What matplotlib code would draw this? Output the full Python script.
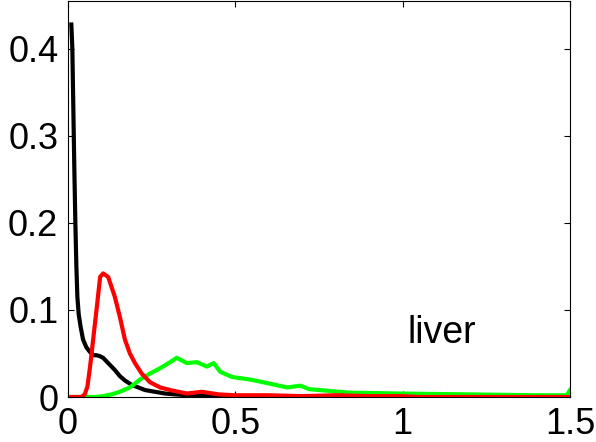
import matplotlib
matplotlib.use('Agg')
import matplotlib.pyplot as plt

# ── Data ──────────────────────────────────────────────────────────────────────
black_x = [0.010, 0.013, 0.016, 0.019, 0.022, 0.025, 0.028, 0.032, 0.038, 0.045,
           0.055, 0.065, 0.075, 0.085, 0.095, 0.105, 0.115, 0.125, 0.140, 0.155,
           0.170, 0.190, 0.210, 0.230, 0.260, 0.290, 0.320, 0.360, 0.400, 0.450,
           0.500, 0.550, 1.500]
black_y = [0.428, 0.400, 0.330, 0.260, 0.200, 0.150, 0.115, 0.095, 0.080, 0.066,
           0.057, 0.052, 0.048, 0.048, 0.047, 0.045, 0.041, 0.037, 0.031, 0.024,
           0.019, 0.014, 0.011, 0.008, 0.006, 0.004, 0.003, 0.002, 0.0015, 0.001,
           0.0005, 0.0, 0.0]

red_x = [0.010, 0.040, 0.050, 0.058, 0.066, 0.076, 0.086, 0.096, 0.105, 0.120,
         0.140, 0.155, 0.170, 0.185, 0.200, 0.220, 0.245, 0.275, 0.305, 0.355,
         0.400, 0.450, 0.500, 0.600, 0.700, 0.800, 0.900, 1.000, 1.050, 1.500]
red_y = [0.000, 0.000, 0.003, 0.012, 0.035, 0.069, 0.103, 0.138, 0.142, 0.138,
         0.115, 0.092, 0.066, 0.050, 0.039, 0.027, 0.017, 0.011, 0.008, 0.004,
         0.006, 0.003, 0.002, 0.002, 0.001, 0.002, 0.001, 0.001, 0.0, 0.0]

green_x = [0.010, 0.080, 0.105, 0.130, 0.155, 0.185, 0.215, 0.245, 0.275, 0.305,
           0.325, 0.355, 0.385, 0.415, 0.435, 0.455, 0.490, 0.545, 0.595, 0.655,
           0.695, 0.720, 0.750, 0.840, 0.990, 1.200, 1.400, 1.490, 1.500]
green_y = [0.000, 0.000, 0.001, 0.003, 0.006, 0.011, 0.020, 0.027, 0.033, 0.040,
           0.045, 0.039, 0.040, 0.035, 0.039, 0.029, 0.023, 0.020, 0.016, 0.011,
           0.013, 0.009, 0.008, 0.005, 0.004, 0.003, 0.002, 0.002, 0.008]

x_ticks = [0, 0.5, 1, 1.5]
x_tick_labels = ['0', '0.5', '1', '1.5']
y_ticks = [0, 0.1, 0.2, 0.3, 0.4]
y_tick_labels = ['0', '0.1', '0.2', '0.3', '0.4']

plt.rcParams['font.family'] = ['Liberation Sans', 'DejaVu Sans']

fig = plt.figure(figsize=(5.96, 4.42), dpi=100)
ax = fig.add_axes([0.1141, 0.1018, 0.8423, 0.8959])

# histogram-like curves, thick MATLAB-style strokes
ax.plot(black_x, black_y, color='black', lw=3)
ax.plot(green_x, green_y, color='#00FF00', lw=3)
ax.plot(red_x, red_y, color='#FF0000', lw=3)

ax.text(1.013, 0.062, 'liver', fontsize=27, ha='left', va='baseline')

ax.set_xlim(0, 1.5)
ax.set_ylim(0, 0.455)
ax.set_xticks(x_ticks)
ax.set_xticklabels(x_tick_labels)
ax.set_yticks(y_ticks)
ax.set_yticklabels(y_tick_labels)
ax.tick_params(direction='in', length=4, width=0.8, labelsize=26,
               top=True, right=True, pad=7)
for s in ax.spines.values():
    s.set_linewidth(0.8)

fig.savefig('out.png', dpi=100)
